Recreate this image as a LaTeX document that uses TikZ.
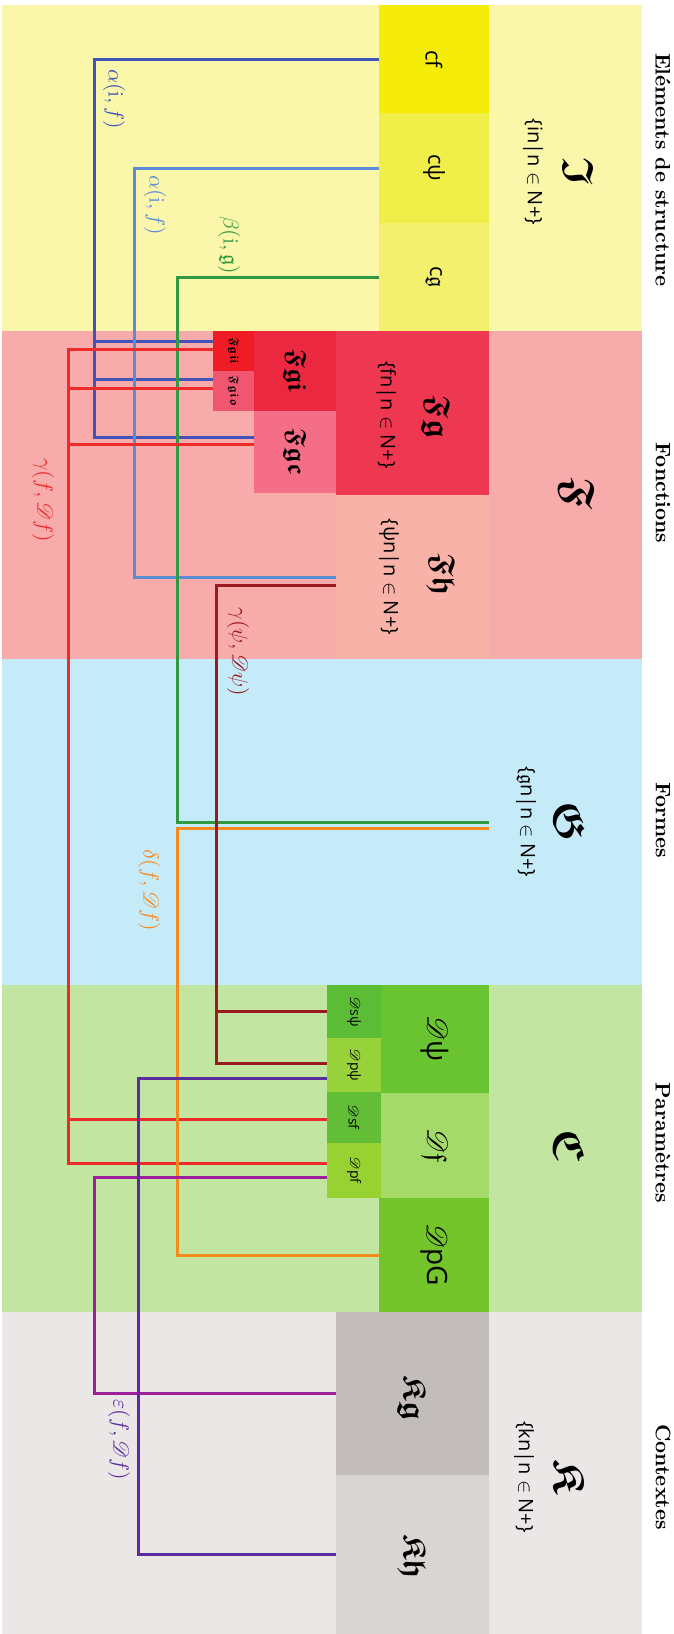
\documentclass[tikz,border=0pt]{standalone}
\usepackage{amssymb}
\usepackage{mathrsfs}
\usepackage{bm}
\usepackage{fontspec}
\setsansfont{Open Sans}
\usetikzlibrary{fit,calc}
\definecolor{bY}{HTML}{FAF7AA}
\definecolor{bP}{HTML}{F7ABAB}
\definecolor{bB}{HTML}{C5EBF8}
\definecolor{bGr}{HTML}{C3E5A2}
\definecolor{bK}{HTML}{EBE7E6}
\definecolor{cfC}{HTML}{F6EC0A}
\definecolor{cpsiC}{HTML}{F0EE48}
\definecolor{cgC}{HTML}{F2F06C}
\definecolor{FgC}{HTML}{EE3750}
\definecolor{FhC}{HTML}{F8B2A8}
\definecolor{FgiC}{HTML}{EC2840}
\definecolor{FgcC}{HTML}{F36E86}
\definecolor{FgiiC}{HTML}{EE1D25}
\definecolor{FgioC}{HTML}{F0566F}
\definecolor{DpsiC}{HTML}{6AC330}
\definecolor{DfC}{HTML}{A3DA6A}
\definecolor{DpGC}{HTML}{74C42C}
\definecolor{DspsiC}{HTML}{5ABD35}
\definecolor{DppsiC}{HTML}{98D23A}
\definecolor{DsfC}{HTML}{62BE37}
\definecolor{DpfC}{HTML}{98D232}
\definecolor{KgC}{HTML}{C2BDBA}
\definecolor{KhC}{HTML}{D9D5D3}
\definecolor{lDB}{HTML}{4254B8}
\definecolor{lLB}{HTML}{5B8CD6}
\definecolor{lG}{HTML}{2F9A40}
\definecolor{lR}{HTML}{EE2B2B}
\definecolor{lDR}{HTML}{9A1A20}
\definecolor{lO}{HTML}{F58A1F}
\definecolor{lI}{HTML}{5A2D9E}
\definecolor{lM}{HTML}{9C1F9C}
\newcommand{\frk}[1]{$\bm{\mathfrak{#1}}$}
\begin{document}
\begin{tikzpicture}[x=0.5pt,y=-0.5pt,
  box/.style={inner sep=0pt,outer sep=0pt,draw=none},
  lbl/.style={rotate=-90,inner sep=0pt},
  hdr/.style={lbl,font=\fontsize{10.5}{12}\selectfont\bfseries},
  bigfrak/.style={lbl,font=\fontsize{22}{26}\selectfont},
  settxt/.style={lbl,font=\fontsize{10}{12}\selectfont\sffamily},
  midfrak/.style={lbl,font=\fontsize{16}{19}\selectfont},
  smfrak/.style={lbl,font=\fontsize{13}{15}\selectfont},
  tinyfrak/.style={lbl,font=\fontsize{6}{7}\selectfont},
  ctxt/.style={lbl,font=\fontsize{11}{13}\selectfont\sffamily},
  dtxt/.style={lbl,font=\fontsize{14}{16}\selectfont},
  dsm/.style={lbl,font=\fontsize{7}{8}\selectfont},
  rel/.style={lbl,font=\fontsize{11}{13}\selectfont},
  conn/.style={line width=1.5pt,line join=miter}]
\useasboundingbox (0,0) rectangle (674,1634);
\fill[white] (0,0) rectangle (674,1634);
% bands
\node[box,fill=bY,fit={(2,5)(642,331)}] (bandI) {};
\node[box,fill=bP,fit={(2,331)(642,659)}] (bandF) {};
\node[box,fill=bB,fit={(2,659)(642,985)}] (bandG) {};
\node[box,fill=bGr,fit={(2,985)(642,1312)}] (bandC) {};
\node[box,fill=bK,fit={(2,1312)(642,1634)}] (bandK) {};
% right columns
\node[box,fit={(489,5)(642,331)}] (Icol) {};
\node[box,fit={(489,331)(642,659)}] (Fcol) {};
\node[box,fit={(489,659)(642,985)}] (Gcol) {};
\node[box,fit={(489,985)(642,1312)}] (Ccol) {};
\node[box,fit={(489,1312)(642,1634)}] (Kcol) {};
% headers
\node[hdr] (hI) at (663,170) {Eléments de structure};
\node[hdr] (hF) at (663,493) {Fonctions};
\node[hdr] (hG) at (663,820) {Formes};
\node[hdr] (hC) at (663,1143) {Paramètres};
\node[hdr] (hK) at (663,1477) {Contextes};
% group letters
\node[bigfrak] (lI) at (579,172) {\frk{I}};
\node[settxt] (sI) at (533,172) {\{in|n $\in$ N+\}};
\node[bigfrak] (lF) at (577,493) {\frk{F}};
\node[bigfrak] (lG) at (570,822) {\frk{G}};
\node[settxt] (sG) at (526,822) {\{$\mathfrak{g}$n|n $\in$ N+\}};
\node[bigfrak] (lC) at (570,1145) {\frk{C}};
\node[bigfrak] (lK) at (570,1477) {\frk{K}};
\node[settxt] (sK) at (524,1477) {\{kn|n $\in$ N+\}};
% structure boxes
\node[box,fill=cfC,fit={(379,5)(489,113)}] (cf) {};
\node[box,fill=cpsiC,fit={(379,113)(489,223)}] (cpsi) {};
\node[box,fill=cgC,fit={(379,223)(489,331)}] (cg) {};
\node[ctxt] (cft) at (cf) {cf};
\node[ctxt] (cpsit) at (cpsi) {cψ};
\node[ctxt] (cgt) at (cg) {c$\mathfrak{g}$};
% function boxes
\node[box,fill=FgC,fit={(336,331)(489,495)}] (Fg) {};
\node[box,fill=FhC,fit={(336,495)(489,659)}] (Fh) {};
\node[box,fill=FgiC,fit={(254,331)(336,411)}] (Fgi) {};
\node[box,fill=FgcC,fit={(254,411)(336,493)}] (Fgc) {};
\node[box,fill=FgiiC,fit={(213,331)(254,371)}] (Fgii) {};
\node[box,fill=FgioC,fit={(213,371)(254,411)}] (Fgio) {};
\node[midfrak] (Fgt) at (436,417) {\frk{Fg}};
\node[settxt] (Fgs) at (386,415) {\{fn|n $\in$ N+\}};
\node[midfrak] (Fht) at (441,575) {\frk{Fh}};
\node[settxt] (Fhs) at (389,577) {\{ψn|n $\in$ N+\}};
\node[smfrak] (Fgit) at (Fgi) {\frk{Fgi}};
\node[smfrak] (Fgct) at (Fgc) {\frk{Fgc}};
\node[tinyfrak] (Fgiit) at (Fgii) {\frk{Fgii}};
\node[tinyfrak] (Fgiot) at (Fgio) {\frk{Fgio}};
% parameter boxes
\node[box,fill=DpsiC,fit={(381,985)(489,1093)}] (Dpsi) {};
\node[box,fill=DfC,fit={(381,1093)(489,1198)}] (Df) {};
\node[box,fill=DpGC,fit={(379,1198)(489,1312)}] (DpG) {};
\node[box,fill=DspsiC,fit={(327,985)(381,1038)}] (Dspsi) {};
\node[box,fill=DppsiC,fit={(327,1038)(381,1092)}] (Dppsi) {};
\node[box,fill=DsfC,fit={(327,1092)(381,1143)}] (Dsf) {};
\node[box,fill=DpfC,fit={(327,1143)(381,1198)}] (Dpf) {};
\node[dtxt] (Dpsit) at (Dpsi) {$\mathscr{D}$\textsf{ψ}};
\node[dtxt] (Dft) at (Df) {$\mathscr{D}\mathfrak{f}$};
\node[dtxt] (DpGt) at (DpG) {$\mathscr{D}$\textsf{pG}};
\node[dsm] (Dspsit) at (Dspsi) {$\mathscr{D}$\textsf{sψ}};
\node[dsm] (Dppsit) at (Dppsi) {$\mathscr{D}$\textsf{pψ}};
\node[dsm] (Dsft) at (Dsf) {$\mathscr{D}$\textsf{sf}};
\node[dsm] (Dpft) at (Dpf) {$\mathscr{D}$\textsf{pf}};
% context boxes
\node[box,fill=KgC,fit={(336,1312)(489,1475)}] (Kg) {};
\node[box,fill=KhC,fit={(336,1475)(489,1634)}] (Kh) {};
\node[midfrak] (Kgt) at (412,1398) {\frk{Kg}};
\node[midfrak] (Kht) at (412,1557) {\frk{Kh}};
% ports
\coordinate (pFgii1) at ($(Fgii.west)+(0,-10)$);
\coordinate (pFgii2) at ($(Fgii.west)+(0,-2)$);
\coordinate (pFgio1) at ($(Fgio.west)+(0,-12)$);
\coordinate (pFgio2) at ($(Fgio.west)+(0,-3)$);
\coordinate (pFgc1) at ($(Fgc.west)+(0,-15)$);
\coordinate (pFgc2) at ($(Fgc.west)+(0,-8)$);
\coordinate (pFh2) at ($(Fh.west)+(0,8)$);
\coordinate (pG2) at ($(Gcol.west)+(0,6)$);
\coordinate (pDppsi1) at ($(Dppsi.west)+(0,-2)$);
\coordinate (pDppsi2) at ($(Dppsi.west)+(0,13)$);
\coordinate (pDsf) at ($(Dsf.west)+(0,2)$);
\coordinate (pDpf1) at ($(Dpf.west)+(0,-7)$);
\coordinate (pDpf2) at ($(Dpf.west)+(0,7)$);
% trunks
\coordinate (tDB) at (94,0);
\coordinate (tLB) at (134,0);
\coordinate (tG) at (177,0);
\coordinate (tR) at (68,0);
\coordinate (tDR) at (216,0);
\coordinate (tO) at (177,0);
\coordinate (tI) at (138,0);
\coordinate (tM) at (94,0);
% connectors
\draw[conn,lDB] (cf.west) -| (tDB |- pFgc1) -- (pFgc1);
\draw[conn,lDB] (tDB |- pFgii1) -- (pFgii1);
\draw[conn,lDB] (tDB |- pFgio1) -- (pFgio1);
\draw[conn,lLB] (cpsi.west) -| (tLB |- Fh.west) -- (Fh.west);
\draw[conn,lG] (cg.west) -| (tG |- Gcol.west) -- (Gcol.west);
\draw[conn,lR] (pFgii2) -| (tR |- pDpf1) -- (pDpf1);
\draw[conn,lR] (tR |- pFgio2) -- (pFgio2);
\draw[conn,lR] (tR |- pFgc2) -- (pFgc2);
\draw[conn,lR] (tR |- pDsf) -- (pDsf);
\draw[conn,lO] (pG2) -| (tO |- DpG.west) -- (DpG.west);
\draw[conn,lDR] (pFh2) -| (tDR |- pDppsi1) -- (pDppsi1);
\draw[conn,lDR] (tDR |- Dspsi.west) -- (Dspsi.west);
\draw[conn,lM] (pDpf2) -| (tM |- Kg.west) -- (Kg.west);
\draw[conn,lI] (pDppsi2) -| (tI |- Kh.west) -- (Kh.west);
% relation labels
\node[rel,text=lDB] (rA1) at (114,99) {$\alpha(\mathrm{i},f)$};
\node[rel,text=lLB] (rA2) at (155,205) {$\alpha(\mathrm{i},f)$};
\node[rel,text=lG] (rB) at (229,245) {$\beta(\mathrm{i},\mathfrak{g})$};
\node[rel,text=lR] (rG1) at (43,500) {$\gamma(f,\mathscr{D}f)$};
\node[rel,text=lDR] (rG2) at (238,652) {$\gamma(\psi,\mathscr{D}\psi)$};
\node[rel,text=lO] (rD) at (149,890) {$\delta(f,\mathscr{D}f)$};
\node[rel,text=lI] (rE) at (119,1440) {$\varepsilon(f,\mathscr{D}f)$};
\end{tikzpicture}
\end{document}
